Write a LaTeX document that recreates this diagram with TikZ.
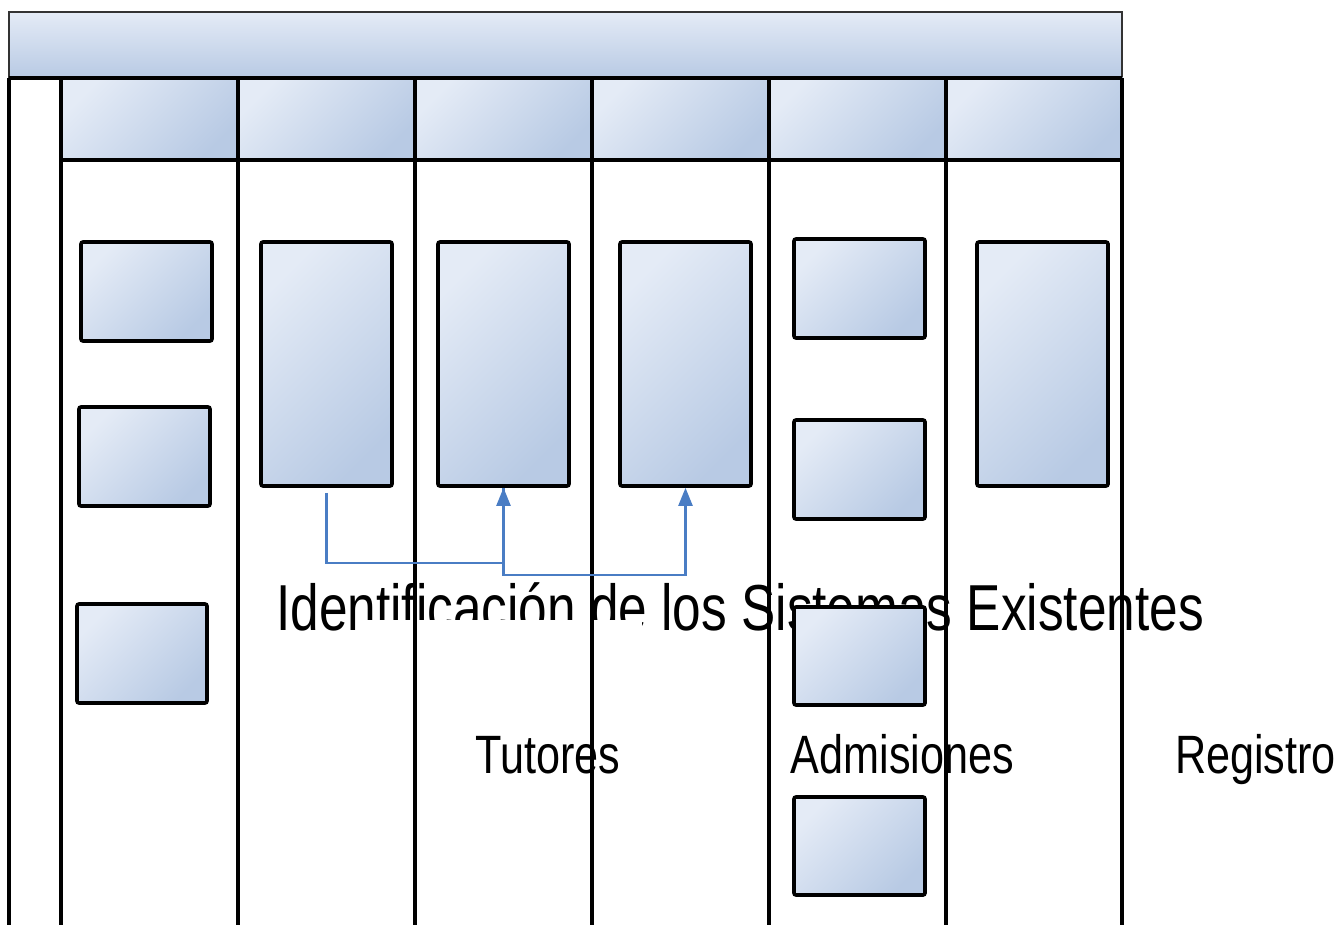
\documentclass[tikz,border=0pt]{standalone}
\usepackage{fontspec}
\setmainfont{Liberation Sans}
\usetikzlibrary{arrows.meta,calc}

\definecolor{paleblue}{HTML}{E4EBF6}
\definecolor{midblue}{HTML}{C6D4EA}
\definecolor{steelblue}{HTML}{B8CAE4}
\definecolor{linkblue}{HTML}{4A7DC4}

\tikzset{
  lanefill/.style={shading=axis, top color=paleblue, middle color=midblue, bottom color=steelblue, shading angle=45},
  taskbox/.style={draw=black, line width=3.6pt, rounded corners=2pt, inner sep=0pt,
    lanefill, minimum width=131pt},
  lanehead/.style={inner sep=0pt, lanefill, minimum height=82pt, minimum width=177pt},
  laneline/.style={line width=4pt, black},
  bigtitle/.style={font=\fontsize{65}{78}\selectfont, xscale=0.79, anchor=base, inner sep=0pt},
  lanelabel/.style={font=\fontsize{54}{64}\selectfont, xscale=0.8, anchor=base, inner sep=0pt},
  conn/.style={draw=linkblue, line width=2.3pt},
  arrowconn/.style={conn, -{Triangle[length=18pt,width=14pt]}}
}

\begin{document}
\begin{tikzpicture}[x=1pt, y=-1pt]
  \useasboundingbox (0,0) rectangle (1342,925);

  % texts (lane contents are drawn over them)
  \node[bigtitle] (title) at (740,630) {Identificación de los Sistemas Existentes};
  \node[lanelabel] (tutores) at (548,773) {Tutores};
  \node[lanelabel] (admisiones) at (902.5,773) {Admisiones};
  \node[lanelabel] (registro) at (1255.5,773) {Registro};

  % blank strip over the lower half of part of the title
  \fill[white] (367,620) rectangle (642,642);

  % pool header
  \draw[draw=black!80, line width=1.6pt, shading=axis, top color=paleblue, bottom color=steelblue]
    (9,12) rectangle (1122,78);

  % lane headers
  \foreach \i/\x in {1/149.5, 2/326.5, 3/503.5, 4/680.5, 5/857.5, 6/1034} {
    \node[lanehead] (h\i) at (\x,119) {};
  }

  % lane separators
  \foreach \x in {9, 61, 238, 415, 592, 769, 946, 1122} {
    \draw[laneline] (\x,78) -- (\x,925);
  }
  \draw[laneline] (9,78) -- (1122,78);
  \draw[laneline] (61,160) -- (1122,160);

  % tasks, lane 1
  \node[taskbox, minimum height=99pt] (a1) at (146.5,291.5) {};
  \node[taskbox, minimum height=99pt] (a2) at (144.5,456.5) {};
  \node[taskbox, minimum height=99pt, minimum width=130pt] (a3) at (142,653.5) {};

  % tall tasks, lanes 2 to 4 and 6
  \node[taskbox, minimum height=244pt] (b2) at (326.5,364) {};
  \node[taskbox, minimum height=244pt] (b3) at (503.5,364) {};
  \node[taskbox, minimum height=244pt] (b4) at (685.5,364) {};
  \node[taskbox, minimum height=244pt] (b6) at (1042.5,364) {};

  % tasks, lane 5
  \node[taskbox, minimum height=99pt] (e1) at (859.5,288.5) {};
  \node[taskbox, minimum height=99pt] (e2) at (859.5,469.5) {};
  \node[taskbox, minimum height=98pt] (e3) at (859.5,656) {};
  \node[taskbox, minimum height=98pt] (e4) at (859.5,846) {};

  % connectors
  \coordinate (s1) at ($(b2.south)+(0,5)$);
  \coordinate (k1) at (0,563);
  \coordinate (k2) at (0,575);
  \draw[arrowconn] (s1) |- (k1 -| b3.south) -- (b3.south);
  \draw[arrowconn] (b3.south) |- (k2 -| b4.south) -- (b4.south);
\end{tikzpicture}
\end{document}
